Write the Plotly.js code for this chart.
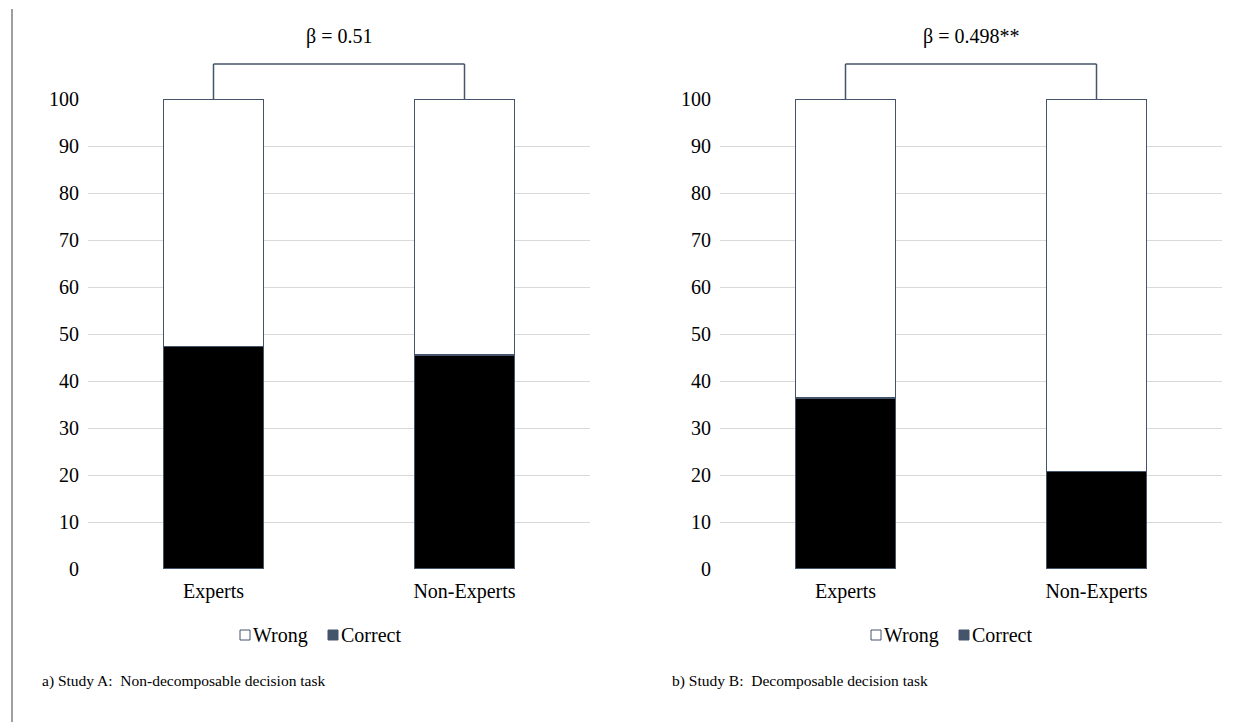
<!DOCTYPE html>
<html>
<head>
<meta charset="utf-8">
<script src="https://cdn.plot.ly/plotly-3.0.1.min.js"></script>
<style>html,body{margin:0;padding:0;background:#fff;}#chart{width:1254px;height:722px;}</style>
</head>
<body>
<div id="chart"></div>
<script>
// ---- data ----
const categories = ['Experts', 'Non-Experts'];
const studyACorrect = [47.3, 45.5];
const studyAWrong = [52.7, 54.5];
const studyBCorrect = [36.4, 20.7];
const studyBWrong = [63.6, 79.3];
const yTicks = [0, 10, 20, 30, 40, 50, 60, 70, 80, 90, 100];
const betaA = 'β = 0.51';
const betaB = 'β = 0.498**';
const captionA = 'a) Study A:\u00a0 Non-decomposable decision task';
const captionB = 'b) Study B:\u00a0 Decomposable decision task';
const legendNames = ['Wrong', 'Correct'];

// ---- styling ----
const W = 1254, H = 722;
const FONT = 'Liberation Serif, Times New Roman, serif';
const EDGE = '#44546A';
const px = v => v / W;
const py = v => 1 - v / H;
const yDom = [py(569), py(99)];

function bar(x, y, name, color, xa, ya) {
  return {
    type: 'bar', x: x, y: y, name: name, xaxis: xa, yaxis: ya,
    width: 0.4, showlegend: false, hoverinfo: 'x+y+name',
    marker: {color: color, line: {color: EDGE, width: 1.5}}
  };
}

const data = [
  bar(categories, studyACorrect, 'Correct', '#000000', 'x', 'y'),
  bar(categories, studyAWrong, 'Wrong', '#ffffff', 'x', 'y'),
  bar(categories, studyBCorrect, 'Correct', '#000000', 'x2', 'y2'),
  bar(categories, studyBWrong, 'Wrong', '#ffffff', 'x2', 'y2')
];

const xCommon = {
  type: 'category', range: [-0.5, 1.5], showgrid: false, zeroline: false, showline: false,
  ticks: '', ticklabelstandoff: 8, tickfont: {family: FONT, size: 20, color: '#000'}, fixedrange: true
};
const yCommon = {
  range: [0, 100], tickvals: yTicks, showgrid: true, gridcolor: '#d9d9d9', gridwidth: 1,
  zeroline: false, showline: false, ticks: '', ticklabelstandoff: 8,
  tickfont: {family: FONT, size: 20, color: '#000'}, domain: yDom, fixedrange: true
};

const shapes = [];
const annotations = [];

// left page rule
shapes.push({type: 'line', xref: 'paper', yref: 'paper', x0: px(12), x1: px(12), y0: 0, y1: py(9),
  line: {color: '#7f7f7f', width: 1.5}});

// brackets
function bracket(xa) {
  const yt = py(64), yb = yDom[1];
  shapes.push({type: 'line', xref: xa, yref: 'paper', x0: 0, x1: 0, y0: yb, y1: yt, line: {color: EDGE, width: 1.5}});
  shapes.push({type: 'line', xref: xa, yref: 'paper', x0: 0, x1: 1, y0: yt, y1: yt, line: {color: EDGE, width: 1.5}});
  shapes.push({type: 'line', xref: xa, yref: 'paper', x0: 1, x1: 1, y0: yb, y1: yt, line: {color: EDGE, width: 1.5}});
}
bracket('x');
bracket('x2');

annotations.push({xref: 'x', yref: 'paper', x: 0.5, y: py(37), text: betaA, showarrow: false,
  xanchor: 'center', yanchor: 'middle', font: {family: FONT, size: 20, color: '#000'}});
annotations.push({xref: 'x2', yref: 'paper', x: 0.5, y: py(37), text: betaB, showarrow: false,
  xanchor: 'center', yanchor: 'middle', font: {family: FONT, size: 20, color: '#000'}});

// legends
function legend(xw) {
  const top = 630, bot = 640;
  shapes.push({type: 'rect', xref: 'paper', yref: 'paper', x0: px(xw), x1: px(xw + 10), y0: py(bot), y1: py(top),
    line: {color: EDGE, width: 1}, fillcolor: '#ffffff'});
  annotations.push({xref: 'paper', yref: 'paper', x: px(xw + 11), y: py(635), text: legendNames[0], showarrow: false,
    xanchor: 'left', yanchor: 'middle', font: {family: FONT, size: 20, color: '#000'}});
  const xc = xw + 88;
  shapes.push({type: 'rect', xref: 'paper', yref: 'paper', x0: px(xc), x1: px(xc + 10), y0: py(bot), y1: py(top),
    line: {color: EDGE, width: 1}, fillcolor: EDGE});
  annotations.push({xref: 'paper', yref: 'paper', x: px(xc + 11), y: py(635), text: legendNames[1], showarrow: false,
    xanchor: 'left', yanchor: 'middle', font: {family: FONT, size: 20, color: '#000'}});
}
legend(240);
legend(871);

// captions
annotations.push({xref: 'paper', yref: 'paper', x: px(40), y: py(681), text: captionA, showarrow: false,
  xanchor: 'left', yanchor: 'middle', font: {family: FONT, size: 15.5, color: '#000'}});
annotations.push({xref: 'paper', yref: 'paper', x: px(670), y: py(681), text: captionB, showarrow: false,
  xanchor: 'left', yanchor: 'middle', font: {family: FONT, size: 15.5, color: '#000'}});

const layout = {
  width: W, height: H, margin: {l: 0, r: 0, t: 0, b: 0},
  paper_bgcolor: '#ffffff', plot_bgcolor: '#ffffff',
  barmode: 'stack', showlegend: false,
  font: {family: FONT, color: '#000'},
  xaxis: Object.assign({}, xCommon, {domain: [px(88), px(590)], anchor: 'y'}),
  yaxis: Object.assign({}, yCommon, {anchor: 'x'}),
  xaxis2: Object.assign({}, xCommon, {domain: [px(720), px(1222)], anchor: 'y2'}),
  yaxis2: Object.assign({}, yCommon, {anchor: 'x2'}),
  shapes: shapes, annotations: annotations
};

Plotly.newPlot('chart', data, layout, {displayModeBar: false, staticPlot: true});
</script>
</body>
</html>
